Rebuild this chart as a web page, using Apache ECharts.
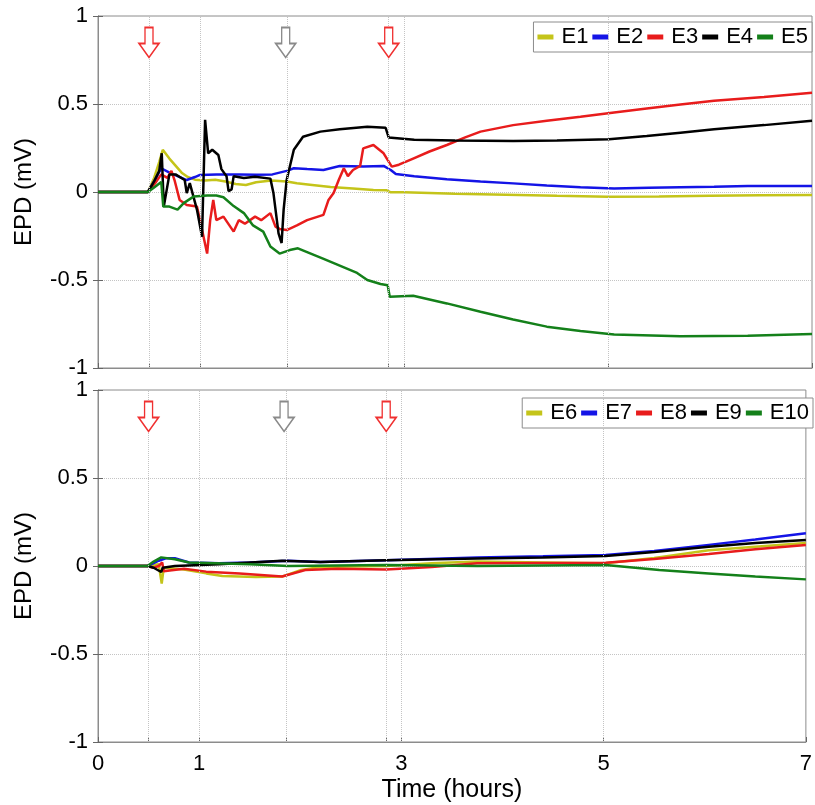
<!DOCTYPE html>
<html>
<head>
<meta charset="utf-8">
<script src="https://cdn.jsdelivr.net/npm/echarts@6/dist/echarts.min.js"></script>
<style>
  html, body { margin: 0; padding: 0; background: #fff; }
  #chart { width: 815px; height: 805px; }
</style>
</head>
<body>
<div id="chart"></div>
<script>
// Electrode potential difference recordings, [time (h), EPD (mV)]
const e1 = [[0,0],[0.49,0],[0.55,0.08],[0.6,0.17],[0.635,0.24],[0.7,0.19],[0.76,0.15],[0.82,0.11],[0.88,0.085],[0.95,0.07],[1.05,0.065],[1.15,0.07],[1.25,0.06],[1.35,0.045],[1.45,0.04],[1.55,0.055],[1.7,0.065],[1.85,0.06],[1.95,0.05],[2.1,0.04],[2.28,0.028],[2.5,0.02],[2.7,0.012],[2.83,0.01],[2.87,-0.002],[3.0,-0.002],[3.5,-0.01],[4.0,-0.015],[4.5,-0.022],[5.0,-0.027],[5.5,-0.025],[6.0,-0.022],[6.5,-0.019],[7.0,-0.017]];
const e2 = [[0,0],[0.49,0],[0.55,0.06],[0.62,0.135],[0.7,0.11],[0.78,0.09],[0.87,0.068],[0.95,0.085],[1.0,0.097],[1.16,0.1],[1.38,0.1],[1.55,0.098],[1.71,0.1],[1.85,0.12],[1.92,0.135],[2.05,0.13],[2.21,0.125],[2.37,0.148],[2.6,0.145],[2.8,0.148],[2.87,0.125],[2.92,0.102],[3.1,0.09],[3.42,0.072],[3.75,0.06],[4.07,0.049],[4.4,0.037],[4.73,0.027],[5.06,0.02],[5.4,0.024],[5.71,0.027],[6.04,0.03],[6.37,0.034],[7.0,0.034]];
const e3 = [[0,0],[0.49,0],[0.56,0.05],[0.62,0.1],[0.68,0.08],[0.72,0.12],[0.75,0.068],[0.8,-0.045],[0.87,-0.074],[0.97,-0.083],[1.0,-0.16],[1.07,-0.35],[1.1,-0.16],[1.13,-0.045],[1.16,-0.16],[1.23,-0.14],[1.33,-0.225],[1.38,-0.16],[1.44,-0.18],[1.54,-0.14],[1.6,-0.16],[1.69,-0.12],[1.74,-0.197],[1.78,-0.21],[1.85,-0.216],[1.95,-0.19],[2.05,-0.16],[2.21,-0.13],[2.26,-0.045],[2.31,-0.006],[2.36,0.068],[2.41,0.135],[2.45,0.09],[2.5,0.125],[2.57,0.148],[2.6,0.248],[2.7,0.267],[2.8,0.22],[2.88,0.144],[2.95,0.155],[3.09,0.19],[3.25,0.23],[3.42,0.267],[3.6,0.31],[3.75,0.343],[4.07,0.38],[4.4,0.405],[4.73,0.428],[5.06,0.452],[5.38,0.475],[5.71,0.497],[6.04,0.519],[6.53,0.54],[7.0,0.564]];
const e4 = [[0,0],[0.49,0],[0.55,0.06],[0.6,0.12],[0.625,0.22],[0.645,-0.083],[0.7,0.1],[0.76,0.1],[0.85,0.068],[0.87,-0.006],[0.9,0.05],[0.97,-0.1],[1.02,-0.254],[1.05,0.41],[1.08,0.22],[1.12,0.24],[1.18,0.21],[1.21,0.13],[1.26,0.09],[1.28,0.005],[1.31,0.015],[1.33,0.09],[1.43,0.08],[1.54,0.087],[1.69,0.076],[1.72,-0.006],[1.77,-0.235],[1.8,-0.29],[1.82,-0.1],[1.85,0.07],[1.92,0.24],[2.01,0.314],[2.18,0.343],[2.37,0.356],[2.64,0.371],[2.82,0.365],[2.85,0.31],[3.1,0.297],[3.5,0.292],[4.07,0.29],[4.5,0.293],[5.01,0.3],[5.38,0.318],[5.71,0.337],[6.04,0.356],[6.53,0.38],[7.0,0.405]];
const e5 = [[0,0],[0.49,0],[0.56,0.03],[0.62,0.057],[0.64,-0.083],[0.7,-0.083],[0.78,-0.1],[0.84,-0.063],[0.94,-0.025],[1.07,-0.02],[1.16,-0.02],[1.23,-0.03],[1.33,-0.08],[1.43,-0.12],[1.52,-0.19],[1.62,-0.225],[1.69,-0.31],[1.78,-0.35],[1.88,-0.33],[1.96,-0.32],[2.2,-0.377],[2.54,-0.46],[2.64,-0.5],[2.77,-0.523],[2.84,-0.53],[2.86,-0.595],[3.09,-0.59],[3.42,-0.633],[3.75,-0.68],[4.07,-0.724],[4.4,-0.765],[4.73,-0.79],[5.06,-0.81],[5.71,-0.82],[6.37,-0.817],[7.0,-0.807]];
const e6 = [[0,0],[0.49,0],[0.6,0.01],[0.63,-0.1],[0.65,-0.01],[0.85,-0.02],[1.07,-0.042],[1.23,-0.057],[1.56,-0.063],[1.82,-0.06],[2.01,-0.023],[2.2,-0.006],[2.85,0.0],[3.3,0.015],[3.75,0.025],[4.4,0.02],[5.02,0.015],[5.5,0.045],[6.04,0.09],[6.5,0.11],[7.0,0.13]];
const e7 = [[0,0],[0.49,0],[0.6,0.03],[0.67,0.044],[0.76,0.044],[0.9,0.02],[1.2,0.015],[1.5,0.02],[1.88,0.03],[2.2,0.023],[2.85,0.032],[3.75,0.049],[4.4,0.055],[5.02,0.0625],[5.5,0.085],[6.04,0.12],[6.5,0.15],[7.0,0.186]];
const e8 = [[0,0],[0.49,0],[0.55,-0.01],[0.6,0.0],[0.635,0.02],[0.65,-0.03],[0.85,-0.015],[1.07,-0.032],[1.4,-0.042],[1.82,-0.06],[2.05,-0.023],[2.37,-0.015],[2.85,-0.02],[3.3,-0.005],[3.75,0.015],[4.4,0.017],[5.02,0.019],[5.5,0.04],[6.04,0.068],[6.5,0.095],[7.0,0.12]];
const e9 = [[0,0],[0.49,0],[0.55,-0.01],[0.625,-0.034],[0.64,-0.01],[0.76,0.0],[1.2,0.01],[1.82,0.03],[2.2,0.023],[2.85,0.032],[3.75,0.042],[4.4,0.049],[5.02,0.057],[5.5,0.08],[6.04,0.11],[6.5,0.13],[7.0,0.148]];
const e10 = [[0,0],[0.49,0],[0.55,0.025],[0.625,0.049],[0.76,0.038],[0.9,0.02],[1.5,0.01],[1.88,0.0],[2.85,0.005],[3.75,0.0],[5.02,0.006],[5.55,-0.023],[6.04,-0.042],[6.5,-0.06],[7.0,-0.076]];

const topNames = ['E1', 'E2', 'E3', 'E4', 'E5'];
const bottomNames = ['E6', 'E7', 'E8', 'E9', 'E10'];
const topData = [e1, e2, e3, e4, e5];
const bottomData = [e6, e7, e8, e9, e10];
const colors = ['#c4c41a', '#1414e6', '#e81c1c', '#000000', '#14801a'];

// x tick positions (hours) and the labelled subset
const xTicks = [0, 0.5, 1, 1.86, 2.85, 3, 5, 7];
const xLabels = [0, 1, 3, 5, 7];
const gridTimes = [0.5, 1, 1.86, 2.85, 3, 5];

// event markers: [time, colour]
const events = [[0.5, '#f03030'], [1.84, '#8a8a8a'], [2.85, '#f03030']];

const FONT = 'Liberation Sans, Arial, sans-serif';
const ARROW = 'path://M6,0 L14,0 L14,16 L20,16 L10,30 L0,16 L6,16 Z';

const chart = echarts.init(document.getElementById('chart'), null, { renderer: 'canvas' });

const grids = [
  { left: 98, top: 16, width: 714, height: 352 },
  { left: 98, top: 390, width: 714, height: 352 }
];

function xAxisFor(i) {
  return {
    type: 'value', gridIndex: i, min: 0, max: 7,
    axisLine: { show: true, onZero: false, lineStyle: { color: '#8c8c8c', width: 1 } },
    axisTick: { show: true, inside: true, length: 5, customValues: xTicks, lineStyle: { color: '#666' } },
    axisLabel: {
      show: i === 1, customValues: xLabels, margin: 11,
      fontSize: 22, color: '#000', fontFamily: FONT
    },
    splitLine: { show: false },
    name: i === 1 ? 'Time (hours)' : '',
    nameLocation: 'middle', nameGap: 36,
    nameTextStyle: { fontSize: 25, color: '#000', fontFamily: FONT }
  };
}

function yAxisFor(i) {
  return {
    type: 'value', gridIndex: i, min: -1, max: 1, interval: 0.5,
    axisLine: { show: true, onZero: false, lineStyle: { color: '#8c8c8c', width: 1 } },
    axisTick: { show: true, inside: true, length: 5, lineStyle: { color: '#666' } },
    axisLabel: { fontSize: 22, color: '#000', fontFamily: FONT, margin: 10 },
    splitLine: { show: true, lineStyle: { type: 'dotted', color: '#c4c4c4', width: 1 } },
    name: 'EPD (mV)', nameLocation: 'middle', nameGap: 62,
    nameTextStyle: { fontSize: 24, color: '#000', fontFamily: FONT }
  };
}

function rightAxisFor(i) {
  return {
    type: 'value', gridIndex: i, min: -1, max: 1, interval: 0.5, position: 'right',
    axisLine: { show: true, lineStyle: { color: '#8c8c8c', width: 1 } },
    axisTick: { show: true, inside: true, length: 5, lineStyle: { color: '#666' } },
    axisLabel: { show: false }, splitLine: { show: false }
  };
}

function panelSeries(i, names, datasets) {
  const out = [];
  // dotted vertical grid lines
  out.push({
    type: 'line', xAxisIndex: i, yAxisIndex: i * 2, data: [], silent: true, z: 1,
    markLine: {
      silent: true, symbol: ['none', 'none'], label: { show: false },
      lineStyle: { type: 'dotted', color: '#c4c4c4', width: 1 },
      data: gridTimes.map(t => ({ xAxis: t }))
    }
  });
  names.forEach((n, k) => {
    out.push({
      name: n, type: 'line', xAxisIndex: i, yAxisIndex: i * 2,
      data: datasets[k], showSymbol: false, symbol: 'none', z: 3,
      lineStyle: { color: colors[k], width: 2.5 },
      itemStyle: { color: colors[k] }
    });
  });
  // event arrows
  out.push({
    type: 'line', xAxisIndex: i, yAxisIndex: i * 2, data: [], silent: true, z: 4,
    markPoint: {
      silent: true, symbol: ARROW, symbolSize: [20, 30], label: { show: false },
      data: events.map(ev => ({
        coord: [ev[0], 0.85],
        itemStyle: { color: '#ffffff', borderColor: ev[1], borderWidth: 1.6 }
      }))
    }
  });
  return out;
}

function legendFor(names, top, right) {
  return {
    data: names, top: top, right: right, orient: 'horizontal',
    icon: 'rect', itemWidth: 16, itemHeight: 5, itemGap: 4,
    padding: [4, 4, 4, 4], backgroundColor: '#fff',
    borderColor: '#8c8c8c', borderWidth: 1, borderRadius: 0,
    textStyle: { fontSize: 22, color: '#000', fontFamily: FONT, padding: [0, 0, 0, 3] },
    selectedMode: false
  };
}

chart.setOption({
  animation: false,
  backgroundColor: '#fff',
  grid: grids.map(g => Object.assign({ show: true, borderColor: '#8c8c8c', borderWidth: 1, backgroundColor: '#fff' }, g)),
  xAxis: [xAxisFor(0), xAxisFor(1)],
  yAxis: [yAxisFor(0), rightAxisFor(0), yAxisFor(1), rightAxisFor(1)],
  legend: [legendFor(topNames, 22, 3), legendFor(bottomNames, 398, 2)],
  series: panelSeries(0, topNames, topData).concat(panelSeries(1, bottomNames, bottomData))
});
</script>
</body>
</html>
